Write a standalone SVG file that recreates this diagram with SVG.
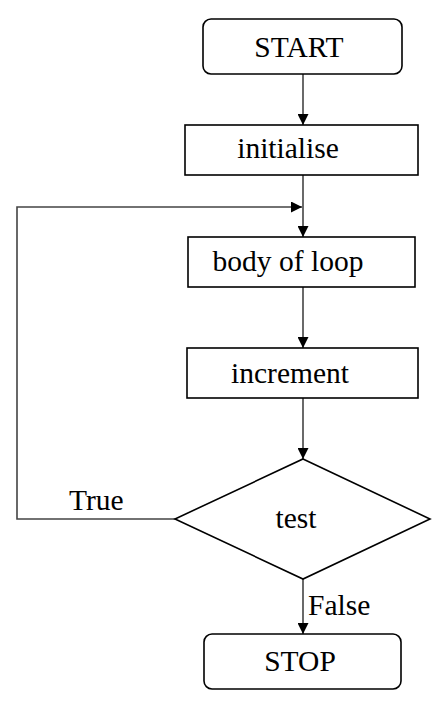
<svg xmlns="http://www.w3.org/2000/svg" width="436" height="701" viewBox="0 0 436 701">
<style>
.box{fill:#fff;stroke:#000;stroke-width:1.6}
.t{font-family:"Liberation Serif","Times New Roman",serif;font-size:29.5px;fill:#000}
.c{text-anchor:middle}
.ln{fill:none;stroke:#444;stroke-width:1.6}
</style>
<defs>
<marker id="ah" viewBox="0 0 10 10" refX="10" refY="5" markerWidth="11" markerHeight="11" markerUnits="userSpaceOnUse" orient="auto">
<path d="M0,0 L10,5 L0,10 Z" fill="#000"/>
</marker>
</defs>
<g id="connectors">
<line class="ln" x1="303" y1="74" x2="303" y2="125" marker-end="url(#ah)"/>
<line class="ln" x1="303" y1="175" x2="303" y2="237" marker-end="url(#ah)"/>
<polyline class="ln" points="175,519 17,519 17,207 302,207" marker-end="url(#ah)"/>
<line class="ln" x1="303" y1="287" x2="303" y2="348" marker-end="url(#ah)"/>
<line class="ln" x1="303" y1="398" x2="303" y2="459" marker-end="url(#ah)"/>
<line class="ln" x1="303" y1="579" x2="303" y2="634" marker-end="url(#ah)"/>
<text class="t" x="69" y="510">True</text>
<text class="t" x="308" y="615">False</text>
</g>
<g id="start">
<rect class="box" x="203" y="19" width="199" height="55" rx="8"/>
<text class="t c" x="299" y="57">START</text>
</g>
<g id="initialise">
<rect class="box" x="185" y="125" width="233" height="50"/>
<text class="t c" x="288" y="158">initialise</text>
</g>
<g id="body">
<rect class="box" x="188" y="237" width="227" height="50"/>
<text class="t c" x="288" y="271">body of loop</text>
</g>
<g id="increment">
<rect class="box" x="187" y="348" width="231" height="50"/>
<text class="t c" x="290" y="383">increment</text>
</g>
<g id="test">
<polygon class="box" points="303,459 430,519 303,579 175,519"/>
<text class="t c" x="296" y="528">test</text>
</g>
<g id="stop">
<rect class="box" x="204" y="634" width="197" height="55" rx="8"/>
<text class="t c" x="300" y="671">STOP</text>
</g>
</svg>
